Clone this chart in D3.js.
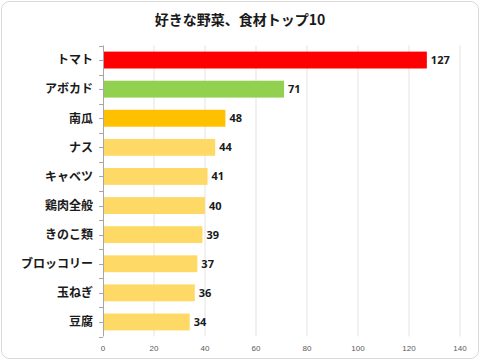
<!DOCTYPE html>
<html><head><meta charset="utf-8">
<script src="https://cdn.jsdelivr.net/npm/d3@7"></script>
<style>body{margin:0;background:#fff}svg{display:block}</style>
</head><body>
<script>
const categories = ["トマト","アボカド","南瓜","ナス","キャベツ","鶏肉全般","きのこ類","ブロッコリー","玉ねぎ","豆腐"];
const values = [127,71,48,44,41,40,39,37,36,34];
const barColors = ["#ff0000","#92d050","#ffc000","#ffd966","#ffd966","#ffd966","#ffd966","#ffd966","#ffd966","#ffd966"];
const xTicks = [0,20,40,60,80,100,120,140];
const title = "好きな野菜、食材トップ10";

const W=480,H=360;
const svg=d3.select("body").append("svg").attr("width",W).attr("height",H);
svg.append("rect").attr("x",1.5).attr("y",1.5).attr("width",W-3).attr("height",H-3)
  .attr("rx",8).attr("fill","#fff").attr("stroke","#d9d9d9").attr("stroke-width",1);
const font="'Noto Sans CJK JP','Noto Sans',sans-serif";
svg.append("text").attr("x",240).attr("y",25).attr("text-anchor","middle")
  .attr("font-family",font).attr("font-weight","bold").attr("font-size",14).attr("fill","#1a1a1a").text(title);

const x=d3.scaleLinear().domain([0,140]).range([103,460]);
const y=d3.scaleBand().domain(categories).range([45.5,336.5]).paddingInner(0.42).paddingOuter(0.21);

svg.append("g").selectAll("line").data(xTicks.slice(1)).join("line")
  .attr("x1",d=>x(d)).attr("x2",d=>x(d)).attr("y1",45.5).attr("y2",336.5)
  .attr("stroke","#e3e3e3").attr("stroke-width",1);

svg.append("g").selectAll("rect").data(values).join("rect")
  .attr("x",x(0)).attr("y",(d,i)=>y(categories[i]))
  .attr("width",d=>x(d)-x(0)).attr("height",y.bandwidth())
  .attr("fill",(d,i)=>barColors[i]);

const step=y.step();
const tickYs=d3.range(0,categories.length*2+1).map(k=>45.5+k*step/2);
svg.append("line").attr("x1",x(0)+0.5).attr("x2",x(0)+0.5).attr("y1",45.5).attr("y2",336.5)
  .attr("stroke","#a6a6a6");
svg.append("g").selectAll("line").data(tickYs).join("line")
  .attr("x1",x(0)-4).attr("x2",x(0)).attr("y1",d=>Math.round(d)+0.5).attr("y2",d=>Math.round(d)+0.5)
  .attr("stroke","#a6a6a6");

svg.append("g").selectAll("text").data(categories).join("text")
  .attr("x",93).attr("y",d=>y(d)+y.bandwidth()/2).attr("dy","0.36em")
  .attr("text-anchor","end").attr("font-family",font).attr("font-weight","bold")
  .attr("font-size",12).attr("fill","#1a1a1a").text(d=>d);

svg.append("g").selectAll("text").data(values).join("text")
  .attr("x",d=>x(d)+4).attr("y",(d,i)=>y(categories[i])+y.bandwidth()/2).attr("dy","0.36em")
  .attr("font-family","'Open Sans','Liberation Sans',sans-serif").attr("font-weight","bold")
  .attr("font-size",11).attr("fill","#1a1a1a").text(d=>d);

svg.append("g").selectAll("text").data(xTicks).join("text")
  .attr("x",d=>x(d)).attr("y",351).attr("text-anchor","middle")
  .attr("font-family","'Liberation Sans',sans-serif").attr("font-size",8).attr("fill","#595959").text(d=>d);
</script>
</body></html>
